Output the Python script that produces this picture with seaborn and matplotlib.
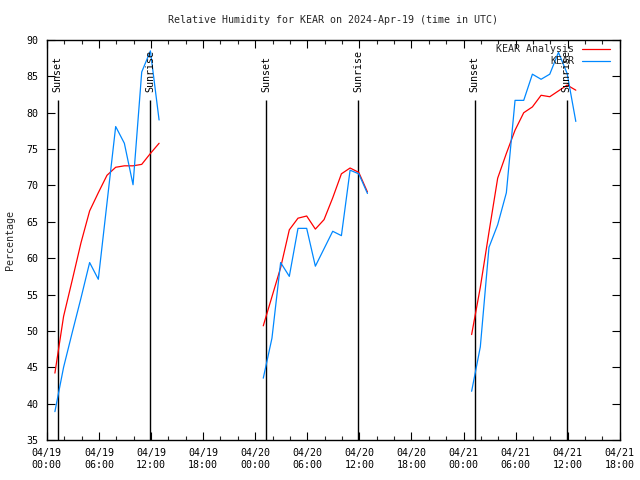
import matplotlib
matplotlib.use("Agg")
import matplotlib.pyplot as plt
import matplotlib.dates as mdates
import seaborn as sns
import pandas as pd
import numpy as np

# ---- data ----
days = ["2024-04-19", "2024-04-20", "2024-04-21"]
hours = ["00:56", "01:56", "02:56", "03:56", "04:56", "05:56", "06:56",
         "07:56", "08:56", "09:56", "10:56", "11:56", "12:56"]

analysis_0419 = [44.2, 52.0, 57.0, 62.1, 66.5, 69.0, 71.4, 72.5, 72.7, 72.7, 72.9, 74.4, 75.8]
obs_0419 = [38.9, 45.0, 49.8, 54.5, 59.4, 57.1, 67.6, 78.1, 75.8, 70.1, 85.6, 88.5, 79.0]
analysis_0420 = [50.7, 54.7, 58.7, 63.9, 65.5, 65.8, 64.0, 65.3, 68.3, 71.6, 72.4, 71.8, 69.1]
obs_0420 = [43.5, 49.0, 59.4, 57.5, 64.1, 64.1, 58.9, 61.3, 63.7, 63.1, 72.1, 71.6, 68.9]
analysis_0421 = [49.5, 56.0, 63.6, 71.0, 74.4, 77.6, 80.0, 80.8, 82.4, 82.2, 83.0, 83.8, 83.1]
obs_0421 = [41.7, 47.8, 61.5, 64.6, 69.0, 81.7, 81.7, 85.3, 84.6, 85.3, 88.3, 85.4, 78.8]

series_names = ["KEAR Analysis", "KEAR"]
series_colors = ["#ff0000", "#0088ff"]

sunset_times = ["2024-04-19 01:14", "2024-04-20 01:15", "2024-04-21 01:16"]
sunrise_times = ["2024-04-19 11:55", "2024-04-20 11:54", "2024-04-21 11:52"]

title = "Relative Humidity for KEAR on 2024-Apr-19 (time in UTC)"
ylabel = "Percentage"
y_ticks = [35, 40, 45, 50, 55, 60, 65, 70, 75, 80, 85, 90]

# ---- build long table ----
analysis_by_day = [analysis_0419, analysis_0420, analysis_0421]
obs_by_day = [obs_0419, obs_0420, obs_0421]
rows = []
for d, an, ob in zip(days, analysis_by_day, obs_by_day):
    for h, a, o in zip(hours, an, ob):
        t = pd.Timestamp(f"{d} {h}")
        rows.append({"time": t, "value": a, "series": series_names[0], "day": d})
        rows.append({"time": t, "value": o, "series": series_names[1], "day": d})
df = pd.DataFrame(rows)

# ---- style ----
sns.set_style("ticks", {"xtick.direction": "in", "ytick.direction": "in"})
plt.rcParams["font.family"] = ["DejaVu Sans Mono", "DejaVu Sans"]
plt.rcParams["font.size"] = 7.2

fig = plt.figure(figsize=(6.4, 4.8), dpi=100)
ax = fig.add_axes([46.8 / 640, 1 - 440 / 480, 573 / 640, 400 / 480])

sns.lineplot(data=df, x="time", y="value", hue="series", units="day",
             estimator=None, palette=dict(zip(series_names, series_colors)),
             hue_order=series_names, linewidth=0.9, ax=ax, legend=False)

# sunset / sunrise markers
ymin, ymax = 35, 90
line_top = 81.8
for times, label in [(sunset_times, "Sunset"), (sunrise_times, "Sunrise")]:
    ts = pd.to_datetime(times)
    ax.vlines(ts, ymin, line_top, colors="black", linewidth=1.0, zorder=1)
    for t in ts:
        ax.text(t, 82.8, label, rotation=90, ha="center", va="bottom",
                fontsize=7.2, color="black")

ax.set_xlim(pd.Timestamp("2024-04-19 00:00"), pd.Timestamp("2024-04-21 18:00"))
ax.set_ylim(ymin, ymax)
ax.set_yticks(y_ticks)
ax.xaxis.set_major_locator(mdates.HourLocator(byhour=[0, 6, 12, 18]))
ax.xaxis.set_minor_locator(mdates.HourLocator(byhour=range(0, 24, 2)))
ax.xaxis.set_major_formatter(mdates.DateFormatter("%m/%d\n%H:%M"))
ax.tick_params(axis="both", which="major", direction="in", length=6, width=0.8,
               top=True, right=True, labelsize=7.2, pad=6, colors="black")
ax.tick_params(axis="x", which="minor", direction="in", length=3, width=0.8,
               top=True, bottom=True)
for s in ax.spines.values():
    s.set_color("black")
    s.set_linewidth(1.0)

ax.set_xlabel("")
ax.set_ylabel(ylabel, fontsize=7.2, labelpad=8)
ax.set_title(title, fontsize=7.2, pad=12.5)

handles = [plt.Line2D([], [], color=c, linewidth=0.9) for c in series_colors]
ax.legend(handles, series_names, loc="upper right", bbox_to_anchor=(0.994, 1.005),
          frameon=False, markerfirst=False, handlelength=2.8, handletextpad=0.8,
          labelspacing=0.25, borderaxespad=0.2, fontsize=7.2)

fig.savefig("out.png", dpi=100)
